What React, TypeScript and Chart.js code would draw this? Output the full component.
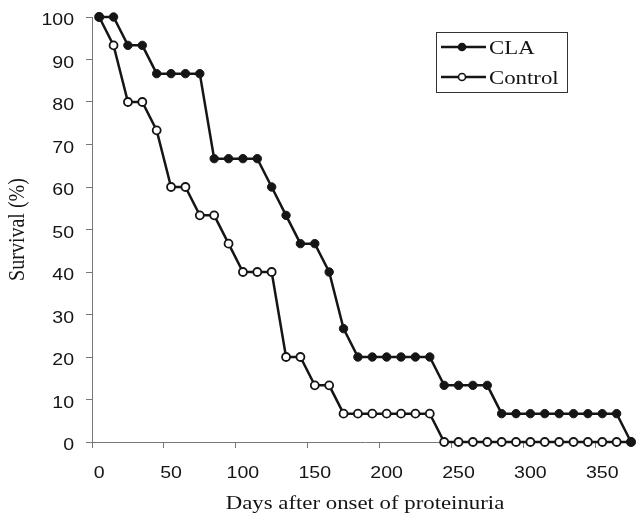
import { useEffect, useRef } from 'react';
import { Chart, registerables } from 'chart.js';

Chart.register(...registerables);

// Days after onset of proteinuria (one observation every 10 days)
const days = [
  0, 10, 20, 30, 40, 50, 60, 70, 80, 90, 100, 110, 120, 130, 140, 150, 160, 170, 180,
  190, 200, 210, 220, 230, 240, 250, 260, 270, 280, 290, 300, 310, 320, 330, 340, 350,
  360, 370,
];

// Survival (%) per group
const claSurvival = [
  100, 100, 93.33, 93.33, 86.67, 86.67, 86.67, 86.67, 66.67, 66.67, 66.67, 66.67, 60,
  53.33, 46.67, 46.67, 40, 26.67, 20, 20, 20, 20, 20, 20, 13.33, 13.33, 13.33, 13.33,
  6.67, 6.67, 6.67, 6.67, 6.67, 6.67, 6.67, 6.67, 6.67, 0,
];
const controlSurvival = [
  100, 93.33, 80, 80, 73.33, 60, 60, 53.33, 53.33, 46.67, 40, 40, 40, 20, 20, 13.33,
  13.33, 6.67, 6.67, 6.67, 6.67, 6.67, 6.67, 6.67, 0, 0, 0, 0, 0, 0, 0, 0, 0, 0, 0, 0,
  0, 0,
];

const seriesNames = ['CLA', 'Control'];
const xTitle = 'Days after onset of proteinuria';
const yTitle = 'Survival (%)';

const INK = '#151515';
const AXIS = '#777777';
const SERIF = '"Liberation Serif", "Times New Roman", serif';
const SANS = '"Liberation Sans", Arial, sans-serif';
const WIDE = 1.2; // horizontal stretch of the lettering
const CANVAS_W = 644;
const CANVAS_H = 516;

function wideText(
  ctx: CanvasRenderingContext2D,
  text: string,
  x: number,
  y: number,
  font: string,
  align: CanvasTextAlign,
  sx = WIDE,
) {
  ctx.save();
  ctx.translate(x, y);
  ctx.scale(sx, 1);
  ctx.font = font;
  ctx.textAlign = align;
  ctx.textBaseline = 'alphabetic';
  ctx.fillStyle = INK;
  ctx.fillText(text, 0, 0);
  ctx.restore();
}

// Tick labels and axis titles, drawn with a wide letter shape
const axisLettering = {
  id: 'axisLettering',
  afterDraw(chart: any) {
    const { ctx, chartArea } = chart;
    const xs = chart.scales.x;
    const ys = chart.scales.y;
    const tickFont = `17px ${SANS}`;

    days.forEach((d, i) => {
      if (i % 5 !== 0) return;
      wideText(ctx, String(d), xs.getPixelForValue(i), chartArea.bottom + 36, tickFont, 'center', 1.15);
    });
    ys.ticks.forEach((t: any) => {
      wideText(ctx, String(t.value), chartArea.left - 18, ys.getPixelForValue(t.value) + 8, tickFont, 'right', 1.15);
    });

    wideText(ctx, xTitle, chartArea.left + 273, chartArea.bottom + 67, `19px ${SERIF}`, 'center');

    ctx.save();
    ctx.translate(chartArea.left - 74, (chartArea.top + chartArea.bottom) / 2);
    ctx.scale(WIDE, 1);
    ctx.rotate(-Math.PI / 2);
    ctx.font = `20px ${SERIF}`;
    ctx.textAlign = 'center';
    ctx.textBaseline = 'middle';
    ctx.fillStyle = INK;
    ctx.fillText(yTitle, 0, 0);
    ctx.restore();
  },
};

// Framed legend in the upper right of the plot: line + marker + name
const boxedLegend = {
  id: 'boxedLegend',
  afterDraw(chart: any) {
    const { ctx, chartArea } = chart;
    const x = chartArea.left + 344;
    const y = chartArea.top + 15;
    const w = 131;
    const h = 60;
    ctx.save();
    ctx.strokeStyle = '#333';
    ctx.lineWidth = 1;
    ctx.strokeRect(x + 0.5, y + 0.5, w, h);
    chart.data.datasets.forEach((ds: any, i: number) => {
      const cy = y + 15 + i * 30;
      ctx.strokeStyle = INK;
      ctx.lineWidth = 2.5;
      ctx.beginPath();
      ctx.moveTo(x + 5, cy);
      ctx.lineTo(x + 50, cy);
      ctx.stroke();
      ctx.beginPath();
      ctx.arc(x + 26, cy, 3.5, 0, Math.PI * 2);
      ctx.fillStyle = ds.pointBackgroundColor;
      ctx.fill();
      ctx.lineWidth = 1.6;
      ctx.stroke();
      wideText(ctx, ds.label, x + 53, cy + 7, `19px ${SERIF}`, 'left');
    });
    ctx.restore();
  },
};

function SurvivalChart() {
  const canvasRef = useRef<HTMLCanvasElement | null>(null);

  useEffect(() => {
    const canvas = canvasRef.current;
    if (!canvas) return;
    const chart = new Chart(canvas, {
      type: 'line',
      data: {
        labels: days.map(String),
        datasets: [
          {
            label: seriesNames[0],
            data: claSurvival,
            borderColor: INK,
            borderWidth: 2.5,
            pointRadius: 4.2,
            pointBackgroundColor: INK,
            pointBorderColor: INK,
            pointBorderWidth: 1,
            tension: 0,
            clip: false,
          },
          {
            label: seriesNames[1],
            data: controlSurvival,
            borderColor: INK,
            borderWidth: 2.5,
            pointRadius: 4,
            pointBackgroundColor: '#ffffff',
            pointBorderColor: INK,
            pointBorderWidth: 1.8,
            tension: 0,
            clip: false,
          },
        ],
      },
      options: {
        responsive: false,
        animation: false,
        devicePixelRatio: 1,
        layout: { padding: { top: 17, right: 1, left: 0, bottom: 0 } },
        plugins: {
          legend: { display: false },
          tooltip: { enabled: false },
        },
        scales: {
          x: {
            type: 'category',
            offset: true,
            afterFit: (scale: any) => {
              scale.height = 74;
            },
            grid: {
              offset: true,
              drawOnChartArea: false,
              drawTicks: true,
              tickLength: 6,
              color: (ctx: any) => (ctx.index % 5 === 0 ? AXIS : 'rgba(0,0,0,0)'),
            },
            border: { display: true, color: AXIS, width: 1 },
            ticks: { display: false, autoSkip: false, maxRotation: 0 },
          },
          y: {
            min: 0,
            max: 100,
            afterFit: (scale: any) => {
              scale.width = 92;
            },
            grid: {
              drawOnChartArea: false,
              drawTicks: true,
              tickLength: 6,
              color: AXIS,
            },
            border: { display: true, color: AXIS, width: 1 },
            ticks: { display: false, stepSize: 10 },
          },
        },
      },
      plugins: [axisLettering, boxedLegend],
    });
    return () => chart.destroy();
  }, []);

  return (
    <canvas ref={canvasRef} width={CANVAS_W} height={CANVAS_H} style={{ display: 'block' }} />
  );
}

export default function App() {
  return (
    <div
      style={{
        position: 'fixed',
        left: 0,
        top: 0,
        width: 636,
        height: 516,
        overflow: 'hidden',
        background: '#ffffff',
      }}
    >
      <div style={{ width: CANVAS_W, height: CANVAS_H }}>
        <SurvivalChart />
      </div>
    </div>
  );
}
